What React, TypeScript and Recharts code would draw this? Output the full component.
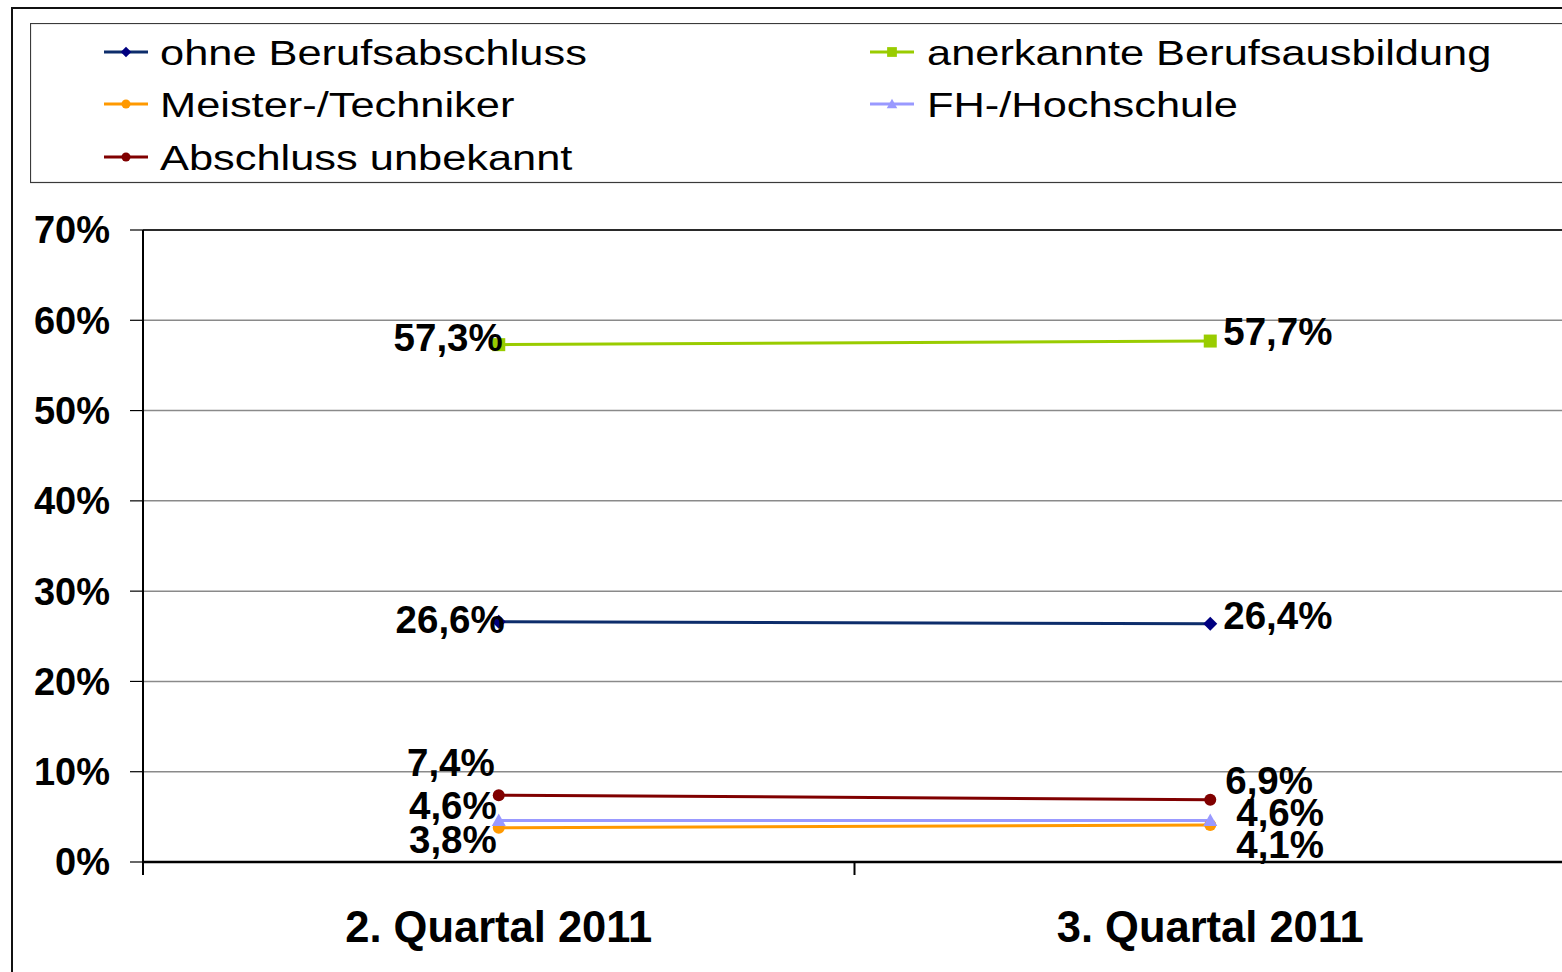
import React from 'react';
import { LineChart, Line, XAxis, YAxis, CartesianGrid, Legend, ReferenceLine } from 'recharts';

// ---------- data ----------
const categories = ['2. Quartal 2011', '3. Quartal 2011'];
const seriesNames = [
  'ohne Berufsabschluss',
  'anerkannte Berufsausbildung',
  'Meister-/Techniker',
  'FH-/Hochschule',
  'Abschluss unbekannt',
];
const ohneBerufsabschluss = [26.6, 26.4];
const anerkannteBerufsausbildung = [57.3, 57.7];
const meisterTechniker = [3.8, 4.1];
const fhHochschule = [4.6, 4.6];
const abschlussUnbekannt = [7.4, 6.9];
const yTicks = [0, 10, 20, 30, 40, 50, 60, 70];

const seriesValues = [
  ohneBerufsabschluss,
  anerkannteBerufsausbildung,
  meisterTechniker,
  fhHochschule,
  abschlussUnbekannt,
];

const data = categories.map((c, i) => {
  const row: Record<string, any> = { category: c };
  seriesValues.forEach((vals, si) => {
    row['s' + si] = vals[i];
  });
  return row;
});

// ---------- styles ----------
const FONT = "'Liberation Sans', Arial, Helvetica, sans-serif";
const CHART_W = 1570;
const CHART_H = 972;
const MARGIN = { top: 230, right: 4, left: 0, bottom: 0 };
const Y_AXIS_W = 143;
const HALF_BAND = (CHART_W - MARGIN.right - MARGIN.left - Y_AXIS_W) / categories.length / 2;

type Shape = 'diamond' | 'square' | 'circle' | 'triangle';
const STYLES: { line: string; marker: string; shape: Shape; size: number; lab: { dx: number; dy: number }[] }[] = [
  { line: '#0D2D6B', marker: '#000080', shape: 'diamond', size: 7, lab: [{ dx: 6, dy: -2 }, { dx: 13, dy: -8 }] },
  { line: '#99CC00', marker: '#99CC00', shape: 'square', size: 6.5, lab: [{ dx: 4, dy: -7 }, { dx: 13, dy: -10 }] },
  { line: '#FF9900', marker: '#FF9900', shape: 'circle', size: 6, lab: [{ dx: -2, dy: 12 }, { dx: 26, dy: 20 }] },
  { line: '#9999FF', marker: '#9999FF', shape: 'triangle', size: 7, lab: [{ dx: -2, dy: -15 }, { dx: 26, dy: -8 }] },
  { line: '#800000', marker: '#800000', shape: 'circle', size: 6, lab: [{ dx: -4, dy: -33 }, { dx: 15, dy: -19 }] },
];

function Marker({ shape, cx, cy, s, color }: { shape: Shape; cx: number; cy: number; s: number; color: string }) {
  switch (shape) {
    case 'diamond':
      return <polygon points={`${cx},${cy - s} ${cx + s},${cy} ${cx},${cy + s} ${cx - s},${cy}`} fill={color} />;
    case 'square':
      return <rect x={cx - s} y={cy - s} width={2 * s} height={2 * s} fill={color} />;
    case 'triangle':
      return <polygon points={`${cx},${cy - s} ${cx + s},${cy + s * 0.8} ${cx - s},${cy + s * 0.8}`} fill={color} />;
    default:
      return <circle cx={cx} cy={cy} r={s} fill={color} />;
  }
}

const fmt = (v: number) => v.toFixed(1).replace('.', ',') + '%';

const makeDot = (si: number) => (p: any) => {
  const st = STYLES[si];
  if (p.cx == null || p.cy == null) return <g key={`d${si}-${p.index}`} />;
  return (
    <g key={`d${si}-${p.index}`}>
      <Marker shape={st.shape} cx={p.cx} cy={p.cy} s={st.size} color={st.marker} />
    </g>
  );
};

const makeLabel = (si: number) => (p: any) => {
  const { x, y, value, index } = p;
  const off = STYLES[si].lab[index] || { dx: 0, dy: 0 };
  return (
    <text
      key={`l${si}-${index}`}
      x={x + off.dx}
      y={y + off.dy}
      dy="0.35em"
      textAnchor={index === 0 ? 'end' : 'start'}
      fontFamily={FONT}
      fontSize={38.5}
      fontWeight="bold"
      fill="#000"
    >
      {fmt(Number(value))}
    </text>
  );
};

const XTick = (props: any) => {
  const { x, y, payload, index } = props;
  return (
    <g>
      <line x1={x - HALF_BAND} y1={y} x2={x - HALF_BAND} y2={y + 13} stroke="#000" strokeWidth={2} />
      {index === categories.length - 1 && (
        <line x1={x + HALF_BAND} y1={y} x2={x + HALF_BAND} y2={y + 13} stroke="#000" strokeWidth={2} />
      )}
      <text x={x} y={y + 80} textAnchor="middle" fontFamily={FONT} fontSize={43.5} fontWeight="bold" fill="#000">
        {payload.value}
      </text>
    </g>
  );
};

// legend geometry (local to the legend box)
const LEG_ROWS = [29, 81, 134];
const LEG_LINE_X = [74, 840];
const LEG_TEXT_X = [130, 897];

const LegendContent = () => {
  return (
    <svg width={1600} height={161} style={{ display: 'block' }}>
      <rect x={0.5} y={0.5} width={1599} height={159} fill="none" stroke="#3a3a3a" strokeWidth={1.2} />
      {seriesNames.map((name, si) => {
        const st = STYLES[si];
        const row = Math.floor(si / 2);
        const col = si % 2;
        const cy = LEG_ROWS[row];
        const lx = LEG_LINE_X[col];
        return (
          <g key={name}>
            <line x1={lx} y1={cy} x2={lx + 44} y2={cy} stroke={st.line} strokeWidth={3} />
            <Marker shape={st.shape} cx={lx + 22} cy={cy} s={st.size * 0.75} color={st.marker} />
            <text
              transform={`translate(${LEG_TEXT_X[col]},${cy + 12.5}) scale(1.24,1)`}
              fontFamily={FONT}
              fontSize={35}
              fill="#000"
            >
              {name}
            </text>
          </g>
        );
      })}
    </svg>
  );
};

export default function App() {
  return (
    <div
      style={{
        position: 'absolute',
        left: 0,
        top: 0,
        width: 1562,
        height: 972,
        overflow: 'hidden',
        background: '#fff',
      }}
    >
      <div
        style={{
          position: 'absolute',
          left: 11,
          top: 7,
          width: 1700,
          height: 1100,
          borderLeft: '2px solid #111',
          borderTop: '2px solid #111',
        }}
      />
      <div style={{ position: 'absolute', left: 0, top: 0 }}>
        <LineChart width={CHART_W} height={CHART_H} data={data} margin={MARGIN}>
          <CartesianGrid vertical={false} stroke="#8a8a8a" strokeWidth={1.5} />
          <ReferenceLine y={70} stroke="#000" strokeWidth={1.5} ifOverflow="extendDomain" />
          <XAxis
            dataKey="category"
            scale="band"
            height={110}
            tickLine={false}
            tickSize={0}
            tickMargin={0}
            axisLine={{ stroke: '#000', strokeWidth: 2.5 }}
            tick={<XTick />}
            interval={0}
          />
          <YAxis
            width={Y_AXIS_W}
            domain={[0, 70]}
            ticks={yTicks}
            interval={0}
            tickFormatter={(v: number) => `${v}%`}
            axisLine={{ stroke: '#000', strokeWidth: 2 }}
            tickLine={{ stroke: '#000', strokeWidth: 1.2 }}
            tickSize={13}
            tickMargin={20}
            tick={{ fontFamily: FONT, fontSize: 38, fontWeight: 'bold', fill: '#000' }}
          />
          <Legend
            layout="vertical"
            align="center"
            verticalAlign="middle"
            wrapperStyle={{ left: 30, top: 23, width: 1600, height: 161 }}
            content={<LegendContent />}
          />
          {seriesNames.map((name, si) => (
            <Line
              key={name}
              type="linear"
              dataKey={'s' + si}
              name={name}
              stroke={STYLES[si].line}
              strokeWidth={3}
              dot={makeDot(si)}
              activeDot={false}
              label={makeLabel(si)}
              isAnimationActive={false}
            />
          ))}
        </LineChart>
      </div>
    </div>
  );
}
